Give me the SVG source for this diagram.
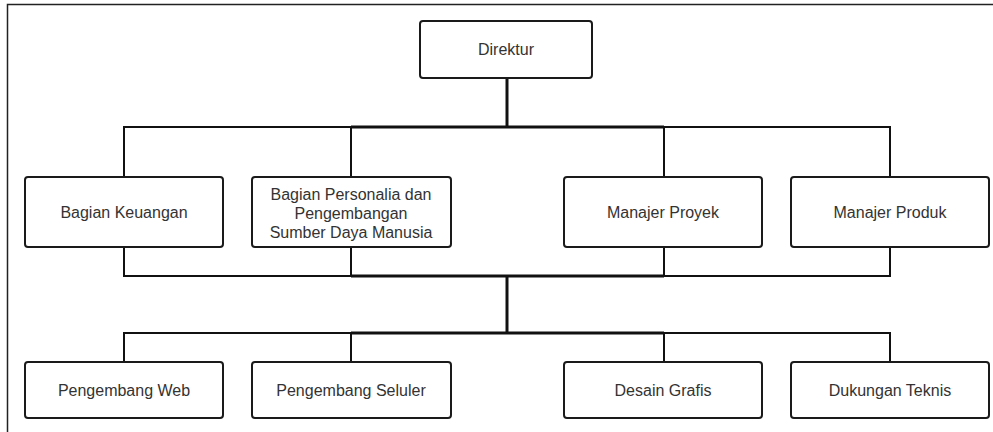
<svg xmlns="http://www.w3.org/2000/svg" width="993" height="432" viewBox="0 0 993 432">
<style>
.box{fill:#fff;stroke:#1a1a1a;stroke-width:2}
.t{font-family:"Liberation Sans",Arial,sans-serif;font-size:16px;fill:#333;text-anchor:middle;dominant-baseline:central}
.c{fill:none;stroke:#111;stroke-width:2}
.ct{fill:none;stroke:#111;stroke-width:3}
</style>
<rect x="0" y="0" width="993" height="432" fill="#fff"/>
<path d="M7.5 432 V4.5 H993" fill="none" stroke="#222" stroke-width="1.5"/>
<g id="connectors">
<path class="c" d="M124 177 V127 H890 V177"/>
<path class="c" d="M351 177 V127"/>
<path class="c" d="M664 177 V127"/>
<path class="ct" d="M507 78 V127"/>
<path class="ct" d="M351 127 H664"/>
<path class="c" d="M124 247 V276 H890 V247"/>
<path class="c" d="M351 247 V276"/>
<path class="c" d="M664 247 V276"/>
<path class="ct" d="M351 276 H664"/>
<path class="ct" d="M507 276 V333"/>
<path class="c" d="M124 362 V333 H890 V362"/>
<path class="c" d="M351 362 V333"/>
<path class="c" d="M664 362 V333"/>
<path class="ct" d="M351 333 H664"/>
</g>
<g id="direktur"><rect class="box" x="420" y="21" width="172" height="57" rx="3"/><text class="t" x="506" y="49">Direktur</text></g>
<g id="keuangan"><rect class="box" x="25" y="177" width="198" height="70" rx="3"/><text class="t" x="124" y="212">Bagian Keuangan</text></g>
<g id="personalia"><rect class="box" x="252" y="177" width="199" height="70" rx="3"/><text class="t" x="351" y="194">Bagian Personalia dan</text><text class="t" x="351" y="213">Pengembangan</text><text class="t" x="351" y="232">Sumber Daya Manusia</text></g>
<g id="proyek"><rect class="box" x="564" y="177" width="198" height="70" rx="3"/><text class="t" x="663" y="212">Manajer Proyek</text></g>
<g id="produk"><rect class="box" x="791" y="177" width="198" height="70" rx="3"/><text class="t" x="890" y="212">Manajer Produk</text></g>
<g id="web"><rect class="box" x="25" y="362" width="198" height="56" rx="3"/><text class="t" x="124" y="390">Pengembang Web</text></g>
<g id="seluler"><rect class="box" x="252" y="362" width="199" height="56" rx="3"/><text class="t" x="351" y="390">Pengembang Seluler</text></g>
<g id="desain"><rect class="box" x="564" y="362" width="198" height="56" rx="3"/><text class="t" x="663" y="390">Desain Grafis</text></g>
<g id="dukungan"><rect class="box" x="791" y="362" width="198" height="56" rx="3"/><text class="t" x="890" y="390">Dukungan Teknis</text></g>
</svg>
